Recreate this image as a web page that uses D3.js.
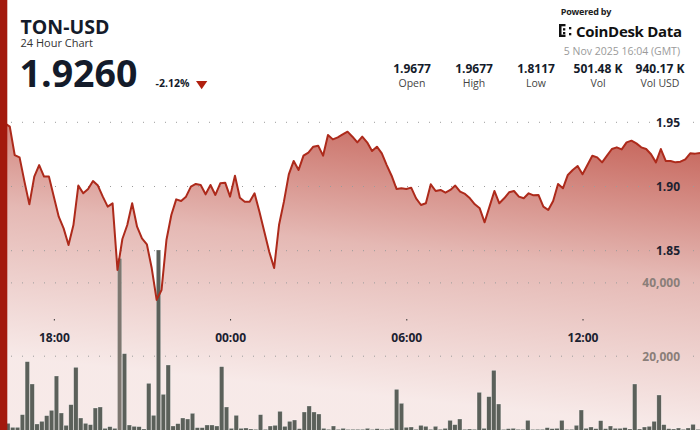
<!DOCTYPE html>
<html><head><meta charset="utf-8">
<script src="https://cdn.jsdelivr.net/npm/d3@7"></script>
<style>
html,body{margin:0;padding:0;background:#fff;}
svg{display:block;font-family:"Open Sans",sans-serif;}
</style></head><body>
<svg id="c" width="700" height="430"></svg>
<script>
const symbol = "TON-USD";
const subtitle = "24 Hour Chart";
const lastPrice = "1.9260";
const changePct = "-2.12%";
const statValues = ["1.9677", "1.9677", "1.8117", "501.48 K", "940.17 K"];
const statLabels = ["Open", "High", "Low", "Vol", "Vol USD"];
const timestamp = "5 Nov 2025 16:04 (GMT)";
const priceTicks = [1.95, 1.90, 1.85];
const volumeTicks = [40000, 20000];
const timeTickLabels = ["18:00", "00:00", "06:00", "12:00"];

const prices = [
  1.9677, 1.9492, 1.9466, 1.9245, 1.9227, 1.9038, 1.8861, 1.9077, 1.9167, 1.9077,
  1.9077, 1.8921, 1.8765, 1.8674, 1.8544, 1.8700, 1.9007, 1.8947, 1.8981, 1.9043,
  1.9007, 1.8921, 1.8843, 1.8869, 1.8350, 1.8591, 1.8700, 1.8869, 1.8687, 1.8596,
  1.8550, 1.8363, 1.8117, 1.8194, 1.8583, 1.8778, 1.8900, 1.8887, 1.8921, 1.8999,
  1.9020, 1.9012, 1.8939, 1.9012, 1.8934, 1.9025, 1.9030, 1.8921, 1.9084, 1.8913,
  1.8882, 1.8882, 1.8947, 1.8804, 1.8648, 1.8492, 1.8365, 1.8700, 1.8882, 1.9095,
  1.9199, 1.9129, 1.9240, 1.9264, 1.9310, 1.9318, 1.9240, 1.9401, 1.9367, 1.9383,
  1.9406, 1.9427, 1.9388, 1.9344, 1.9388, 1.9344, 1.9276, 1.9310, 1.9258, 1.9167,
  1.9084, 1.8981, 1.8986, 1.8981, 1.8991, 1.8908, 1.8856, 1.8869, 1.9017, 1.8965,
  1.8973, 1.8952, 1.8973, 1.9007, 1.8960, 1.8942, 1.8908, 1.8861, 1.8830, 1.8721,
  1.8843, 1.8965, 1.8869, 1.8908, 1.8955, 1.8965, 1.8921, 1.8908, 1.8947, 1.8931,
  1.8934, 1.8843, 1.8817, 1.8887, 1.9020, 1.8986, 1.9090, 1.9129, 1.9160, 1.9095,
  1.9167, 1.9240, 1.9227, 1.9188, 1.9240, 1.9292, 1.9305, 1.9289, 1.9344, 1.9357,
  1.9336, 1.9305, 1.9292, 1.9251, 1.9188, 1.9292, 1.9199, 1.9199, 1.9188, 1.9193,
  1.9212, 1.9258, 1.9256, 1.9260
];

const volumes = [
  1500, 1683, 591, 591, 4047, 18508, 12415, 1501, 2228, 3775,
  5230, 14597, 4502, 1137, 6776, 16962, 3138, 1683, 1319, 5866,
  6139, 318, 773, 318, 46712, 20691, 1228, 864, 773, 136,
  12597, 3866, 48977, 9595, 17599, 955, 1592, 3138, 2865, 4411,
  500, 500, 1228, 1228, 955, 17144, 6139, 318, 3866, 318,
  410, 136, 45, 4047, 45, 955, 1137, 4957, 864, 2228,
  2592, 227, 4775, 6412, 4775, 4229, 318, 45, 955, 45,
  318, 20, 45, 45, 45, 318, 10, 227, 45, 45,
  318, 10960, 7140, 591, 682, 45, 1137, 864, 45, 864,
  45, 318, 2501, 1319, 2865, 45, 136, 45, 10141, 318,
  8958, 16144, 6958, 20, 227, 318, 45, 45, 2501, 20,
  45, 45, 500, 227, 318, 2501, 45, 45, 1137, 5321,
  318, 682, 227, 2410, 227, 955, 318, 318, 500, 136,
  12415, 136, 682, 864, 2228, 9413, 1319, 227, 136, 410,
  45, 410, 1410, 45
];

const startTime = Date.UTC(2025, 10, 4, 16, 10);
const times = prices.map((_, i) => new Date(startTime + i * 10 * 60 * 1000));
const fmtTime = d3.utcFormat("%H:%M");
const tickTimes = times.filter(t => timeTickLabels.includes(fmtTime(t)));

const W = 700, H = 430;
const svg = d3.select("#c");

const x = d3.scaleUtc().domain([times[0], times[times.length - 1]]).range([0, 700]);
const yP = d3.scaleLinear().domain([1.85, 1.95]).range([250.7, 122.3]);
const yV = d3.scaleLinear().domain([0, 20000]).range([429.5, 356.2]);
const xb = d3.scaleBand().domain(d3.range(volumes.length)).range([0.8, 700.1]).paddingInner(0.1);

const defs = svg.append("defs");
const grad = defs.append("linearGradient").attr("id", "areaGrad")
  .attr("gradientUnits", "userSpaceOnUse")
  .attr("x1", 735).attr("y1", 100).attr("x2", 700).attr("y2", 430);
grad.append("stop").attr("offset", 0).attr("stop-color", "#b02a1c").attr("stop-opacity", 0.85);
grad.append("stop").attr("offset", 0.55).attr("stop-color", "#b02a1c").attr("stop-opacity", 0.33);
grad.append("stop").attr("offset", 1).attr("stop-color", "#b02a1c").attr("stop-opacity", 0.1);

// area
const area = d3.area().x((d, i) => x(times[i])).y0(H).y1(d => yP(d));
svg.append("path").datum(prices).attr("d", area).attr("fill", "url(#areaGrad)");

// gridlines helper
function gridline(yv, labelText, labelColor) {
  const g = svg.append("g");
  const t = g.append("text").attr("x", 680).attr("y", yv + 4.3)
    .attr("text-anchor", "end").attr("font-size", 12).attr("font-weight", 700)
    .attr("fill", labelColor).text(labelText);
  const w = t.node().getComputedTextLength();
  const segs = [[0, 680 - w - 6], [686, 700]];
  segs.forEach(([a, b]) => {
    g.insert("line", "text").attr("x1", a).attr("x2", b).attr("y1", yv).attr("y2", yv)
      .attr("stroke", "#9b9b9b").attr("stroke-width", 1)
      .attr("stroke-dasharray", "1,10").attr("stroke-dashoffset", a % 11);
  });
  return g;
}
const gridG = svg.append("g");
const labelsLayer = [];
priceTicks.forEach(p => labelsLayer.push([yP(p), d3.format(".2f")(p), "#1b2130"]));
volumeTicks.forEach(v => labelsLayer.push([yV(v), d3.format(",")(v), "#8a7e79"]));

// gridlines (lines) drawn before bars, labels later
labelsLayer.forEach(([yv, txt, col]) => gridline(yv, txt, col));

// volume bars
svg.append("g").selectAll("rect").data(volumes).join("rect")
  .attr("x", (d, i) => xb(i))
  .attr("y", d => yV(d))
  .attr("width", xb.bandwidth())
  .attr("height", d => yV(0) - yV(d) + 1)
  .attr("fill", (d, i) => i === 24 ? "#7e7770" : "#5b605a")
  .attr("stroke", "rgba(255,255,255,0.55)")
  .attr("stroke-width", 0.5);

// price line
const line = d3.line().x((d, i) => x(times[i])).y(d => yP(d));
svg.append("path").datum(prices).attr("d", line)
  .attr("fill", "none").attr("stroke", "#ad2a1b").attr("stroke-width", 2)
  .attr("stroke-linejoin", "round");

// time axis
const ax = svg.append("g").attr("transform", "translate(0,319)")
  .call(d3.axisBottom(x).tickValues(tickTimes).tickFormat(fmtTime).tickSize(1.5).tickPadding(12.5));
ax.select(".domain").remove();
ax.selectAll(".tick line").attr("stroke", "#333");
ax.selectAll(".tick text").attr("font-size", 12).attr("font-weight", 700)
  .attr("fill", "#1b2130").attr("font-family", "Open Sans, sans-serif");

// left red bar
svg.append("rect").attr("x", 0).attr("y", 0).attr("width", 7.3).attr("height", H).attr("fill", "#a3190d");

// header left
svg.append("text").attr("x", 20.5).attr("y", 34.3).attr("font-size", 19.5).attr("font-weight", 700)
  .attr("fill", "#141b2a").text(symbol);
svg.append("text").attr("x", 20.5).attr("y", 47).attr("font-size", 11).attr("fill", "#333")
  .text(subtitle);
svg.append("text").attr("x", 19.5).attr("y", 87.3).attr("font-size", 37.5).attr("font-weight", 700)
  .attr("fill", "#141b2a").text(lastPrice);
svg.append("text").attr("x", 155.5).attr("y", 87.3).attr("font-size", 10.5).attr("font-weight", 700)
  .attr("fill", "#141b2a").text(changePct);
svg.append("path").attr("d", "M196,81 L207.3,81 L201.65,89.3 Z").attr("fill", "#b1200f");

// header right
svg.append("text").attr("x", 586).attr("y", 15).attr("text-anchor", "middle").attr("font-size", 9)
  .attr("font-weight", 700).attr("fill", "#222").attr("letter-spacing", -0.2).text("Powered by");
const logo = svg.append("g").attr("fill", "#111");
[[559, 24, 2.5, 13], [559, 24, 6.5, 2.3], [559, 34.7, 6.5, 2.3], [563, 28.2, 2.3, 2.3], [563, 32, 2.3, 2.3],
 [569, 27, 2.3, 2.3], [569, 33, 2.3, 2.3]].forEach(([a, b, w, h]) =>
  logo.append("rect").attr("x", a).attr("y", b).attr("width", w).attr("height", h));
svg.append("text").attr("x", 576).attr("y", 36.7).attr("font-size", 15).attr("font-weight", 700)
  .attr("fill", "#111").attr("letter-spacing", -0.3).text("CoinDesk Data");
svg.append("text").attr("x", 680).attr("y", 54.5).attr("text-anchor", "end").attr("font-size", 10.5)
  .attr("fill", "#9a9a9a").text(timestamp);

const statX = [412, 474, 536, 598, 660];
statValues.forEach((v, i) => {
  svg.append("text").attr("x", statX[i]).attr("y", 72.7).attr("text-anchor", "middle")
    .attr("font-size", 12).attr("font-weight", 700).attr("fill", "#141b2a").text(v);
  svg.append("text").attr("x", statX[i]).attr("y", 86.7).attr("text-anchor", "middle")
    .attr("font-size", 10.5).attr("fill", "#444").text(statLabels[i]);
});
</script>
</body></html>
